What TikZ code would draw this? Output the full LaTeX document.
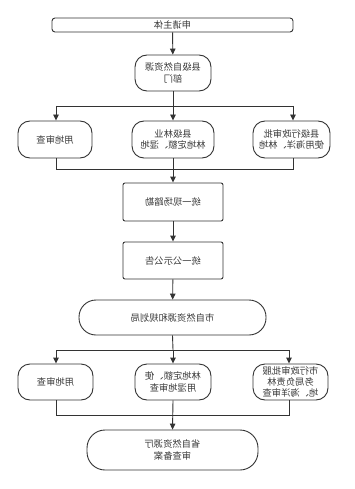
\documentclass[tikz,border=0pt]{standalone}
\usepackage{fontspec}
\newfontfamily\cjk{Noto Sans CJK SC}
\usetikzlibrary{arrows.meta}
\definecolor{ln}{HTML}{333333}
\definecolor{tx}{HTML}{3A3A3A}
\tikzset{
  base/.style={draw=ln, line width=0.9pt, xscale=-1, align=center, text=tx,
    font=\cjk\fontsize{9.3}{11.2}\selectfont, inner sep=1pt, anchor=center},
  pill/.style={base, rounded corners=12pt},
  sq/.style={base, rounded corners=2pt},
  conn/.style={draw=ln, line width=0.9pt},
  arr/.style={conn, -{Triangle[length=6pt,width=5.5pt]}}
}
\begin{document}
\begin{tikzpicture}[x=1pt,y=-1pt]
\useasboundingbox[fill=white] (0,0) rectangle (354,489);
\node[base, rounded corners=3pt, minimum width=241pt, minimum height=14pt] (n1) at (172.5,25) {申请主体};
\node[pill, minimum width=76pt, minimum height=36pt] (n2) at (173,73) {县级自然资源\\部门};
\node[pill, minimum width=74pt, minimum height=37pt] (a1) at (55,139.5) {用地审查};
\node[pill, minimum width=82pt, minimum height=37pt] (a2) at (173,139.5) {县级林业\\林地定额、湿地};
\node[pill, minimum width=77pt, minimum height=37pt] (a3) at (291.5,139.5) {县级行政审批\\使用海洋、林地};
\node[sq, minimum width=100pt, minimum height=38pt] (n6) at (173,202) {统一现场踏勘};
\node[sq, minimum width=100pt, minimum height=37pt] (n7) at (173,260.5) {统一公示公告};
\node[base, rounded corners=17pt, minimum width=187pt, minimum height=35pt] (n8) at (172.5,317.5) {市自然资源和规划局};
\node[pill, minimum width=75pt, minimum height=36pt] (b1) at (55.5,382) {用地审查};
\node[pill, minimum width=76pt, minimum height=36pt] (b2) at (173,382) {林地定额、使\\用湿地审查};
\node[pill, minimum width=75pt, minimum height=36pt] (b3) at (290.5,382) {市行政审批服\\务局负责林\\地、海洋审查};
\node[base, rounded corners=18pt, minimum width=171pt, minimum height=40pt] (n12) at (172.5,450) {省自然资源厅\\审查备案};
% top
\draw[arr] (n1) -- (n2);
\coordinate (s1l) at (56,106);
\coordinate (s1m) at (173,106);
\coordinate (s1r) at (293,106);
\draw[conn] (n2.south) -- (s1m);
\draw[conn] (s1l) -- (s1r);
\draw[arr] (s1l) -- (s1l |- a1.north);
\draw[arr] (s1m) -- (a2.north);
\draw[arr] (s1r) -- (s1r |- a3.north);
\coordinate (j1l) at (56,169);
\coordinate (j1r) at (293,169);
\draw[conn] (j1l |- a1.south) -- (j1l) -- (j1r) -- (j1r |- a3.south);
\draw[arr] (a2.south) -- (n6.north);
\draw[arr] (n6) -- (n7);
\draw[arr] (n7) -- (n8);
% bottom
\coordinate (s2l) at (56,350);
\coordinate (s2m) at (173,350);
\coordinate (s2r) at (289,350);
\draw[conn] (n8.south) -- (s2m);
\draw[conn] (s2l) -- (s2r);
\draw[arr] (s2l) -- (s2l |- b1.north);
\draw[arr] (s2m) -- (b2.north);
\draw[arr] (s2r) -- (s2r |- b3.north);
\coordinate (j2l) at (56,415);
\coordinate (j2r) at (289,415);
\draw[conn] (j2l |- b1.south) -- (j2l) -- (j2r) -- (j2r |- b3.south);
\draw[arr] (b2.south) -- (n12.north);
\end{tikzpicture}
\end{document}
